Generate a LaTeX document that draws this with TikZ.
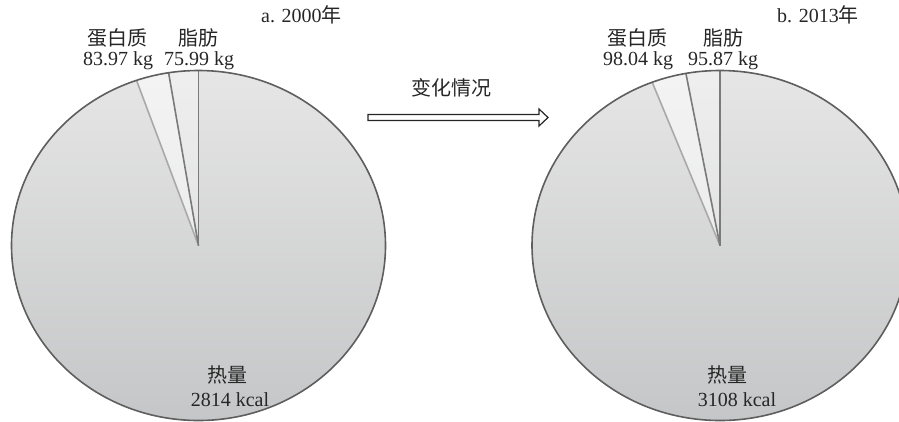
\documentclass[tikz,border=0pt]{standalone}
\usepackage{fontspec}
\setmainfont{Liberation Serif}
\newfontfamily\cjk{Noto Sans CJK SC}
\definecolor{pietop}{HTML}{E6E6E6}
\definecolor{piebot}{HTML}{C5C6C7}
\definecolor{rimc}{HTML}{5E5E5E}
\definecolor{spokedark}{HTML}{7A7A7A}
\definecolor{spokelight}{HTML}{A9A9A9}
\definecolor{txt}{HTML}{262626}
\begin{document}
\begin{tikzpicture}[x=1pt,y=-1pt,
  lbl/.style={font=\fontsize{20}{22}\selectfont, text=txt, inner sep=0pt},
  rim/.style={draw=rimc, line width=1.6pt},
  darkspoke/.style={draw=spokedark, line width=1.6pt},
  lightspoke/.style={draw=spokelight, line width=1.6pt},
  fatfill/.style={fill=white, fill opacity=0.35},
  protfill/.style={fill=white, fill opacity=0.55}]
\useasboundingbox (0,0) rectangle (899,421);
\clip (0,0) rectangle (899,421);

% ---------- left pie (2000) ----------
\begin{scope}[shift={(198.5,245.5)}, x=187pt, y=175pt]
  \coordinate (Lc) at (0,0);
  \shade[top color=pietop, bottom color=piebot] (Lc) circle[radius=1];
  \fill[fatfill] (Lc) -- (90:1) arc[start angle=90, end angle=99.20, radius=1] -- cycle;
  \fill[protfill] (Lc) -- (99.20:1) arc[start angle=99.20, end angle=109.36, radius=1] -- cycle;
  \coordinate (L1) at (90:1);
  \coordinate (L2) at (99.20:1);
  \coordinate (L3) at (109.36:1);
  \draw[lightspoke] (Lc) -- (L3);
  \draw[darkspoke] (Lc) -- (L2);
  \draw[darkspoke] (Lc) -- (L1);
  \draw[rim] (Lc) circle[radius=1];
\end{scope}

% ---------- right pie (2013) ----------
\begin{scope}[shift={(720,245.5)}, x=188pt, y=175pt]
  \coordinate (Rc) at (0,0);
  \shade[top color=pietop, bottom color=piebot] (Rc) circle[radius=1];
  \fill[fatfill] (Rc) -- (90:1) arc[start angle=90, end angle=100.45, radius=1] -- cycle;
  \fill[protfill] (Rc) -- (100.45:1) arc[start angle=100.45, end angle=111.14, radius=1] -- cycle;
  \coordinate (R1) at (90:1);
  \coordinate (R2) at (100.45:1);
  \coordinate (R3) at (111.14:1);
  \draw[lightspoke] (Rc) -- (R3);
  \draw[darkspoke] (Rc) -- (R2);
  \draw[darkspoke] (Rc) -- (R1);
  \draw[rim] (Rc) circle[radius=1];
\end{scope}

% ---------- labels left ----------
\node[lbl] (lprot) at (117,38) {\cjk 蛋白质};
\node[lbl] (lprotv) at (118,61) {83.97 kg};
\node[lbl] (lfat) at (198,38) {\cjk 脂肪};
\node[lbl] (lfatv) at (199,61) {75.99 kg};
\node[lbl, anchor=west] (ltitle) at (261,15) {a. 2000{\cjk 年}};
\node[lbl] (lheat) at (227,375) {\cjk 热量};
\node[lbl] (lheatv) at (230,400) {2814 kcal};

% ---------- labels right ----------
\node[lbl] (rprot) at (637,38) {\cjk 蛋白质};
\node[lbl] (rprotv) at (638,61) {98.04 kg};
\node[lbl] (rfat) at (723,38) {\cjk 脂肪};
\node[lbl] (rfatv) at (723,61) {95.87 kg};
\node[lbl, anchor=west] (rtitle) at (777,15) {b. 2013{\cjk 年}};
\node[lbl] (rheat) at (727,375) {\cjk 热量};
\node[lbl] (rheatv) at (737,400) {3108 kcal};

% ---------- change arrow ----------
\node[lbl] (chg) at (451,88) {\cjk 变化情况};
\coordinate (a1) at (368,114.5);
\coordinate (a2) at (539,114.5);
\coordinate (a3) at (539,109);
\coordinate (a4) at (548,117.5);
\coordinate (a5) at (539,126);
\coordinate (a6) at (539,120.5);
\coordinate (a7) at (368,120.5);
\draw[draw=txt, fill=white, line width=1.2pt, line join=miter]
  (a1) -- (a2) -- (a3) -- (a4) -- (a5) -- (a6) -- (a7) -- cycle;
\end{tikzpicture}
\end{document}
